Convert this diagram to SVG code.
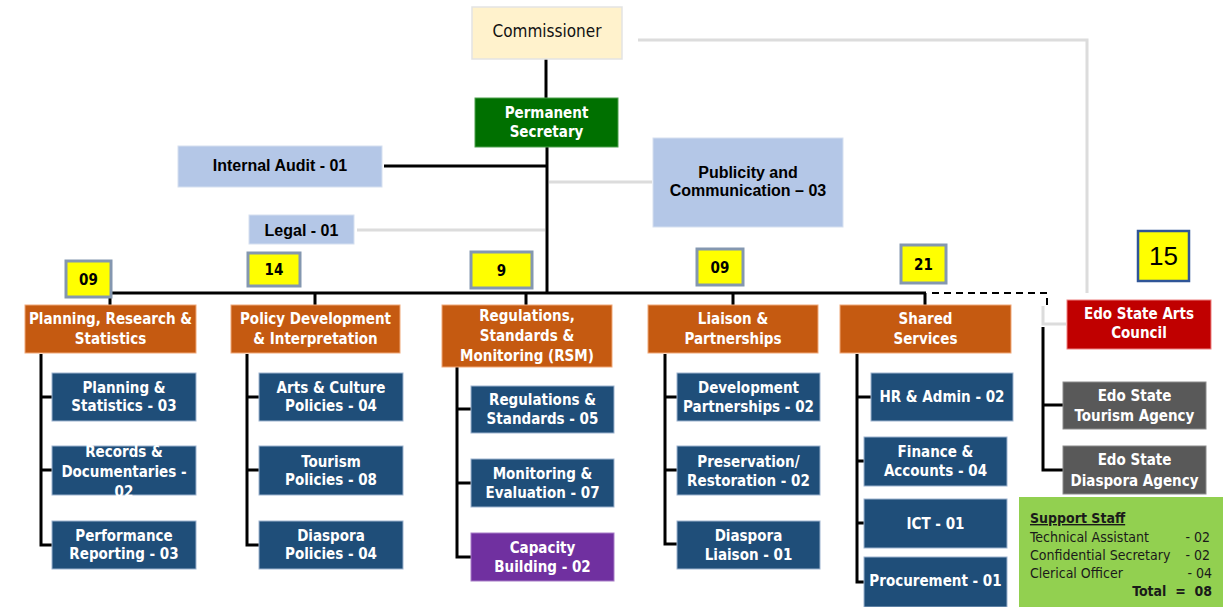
<svg xmlns="http://www.w3.org/2000/svg" width="1228" height="607" viewBox="0 0 1228 607">
  <style>
    .wt { font-family: "DejaVu Sans Condensed", "DejaVu Sans", sans-serif; font-weight: bold; font-size: 15px; fill: #ffffff; text-anchor: middle; }
    .ar { font-family: "Liberation Sans", Arial, sans-serif; font-weight: bold; font-size: 16px; fill: #000000; text-anchor: middle; }
    .num { font-family: "DejaVu Sans Condensed", "DejaVu Sans", sans-serif; font-weight: bold; font-size: 15px; fill: #000000; text-anchor: middle; }
    .sup { font-family: "DejaVu Sans Condensed", "DejaVu Sans", sans-serif; font-size: 14px; fill: #1a1a1a; }
    .unit { fill: #1f4e79; stroke: #9db3cf; stroke-width: 1; }
    .dept { fill: #c55a11; stroke: #f0a878; stroke-width: 1; }
    .agency { fill: #595959; stroke: #8c8c8c; stroke-width: 1; }
    .staff { fill: #b4c7e7; stroke: #d6e0f0; stroke-width: 1; }
    .count { fill: #ffff00; stroke: #8497b0; stroke-width: 3; }
    .line { fill: none; stroke: #000000; stroke-width: 3; }
    .faint { fill: none; stroke: #dcdcdc; stroke-width: 3; }
    .dash { fill: none; stroke: #000000; stroke-width: 2; stroke-dasharray: 7 5; }
  </style>

  <rect width="1228" height="607" fill="#ffffff"/>

  <!-- connectors -->
  <g id="connectors">
    <path class="faint" d="M638 40 H1087 V293"/>
    <path class="faint" d="M549 182 H652"/>
    <path class="faint" d="M357 230 H545"/>
    <path class="faint" d="M1043 306 V324 H1066"/>
    <path class="line" d="M546 59 V98"/>
    <path class="line" d="M547 147 V293"/>
    <path class="line" d="M384 166 H547"/>
    <path class="line" d="M110 293 H926"/>
    <path class="line" d="M110 293 V305 M315 293 V305 M526 293 V305 M733 293 V305 M925 293 V305"/>
    <path class="dash" d="M932 293 H1047 V305"/>
    <!-- Planning, Research & Statistics units -->
    <path class="line" d="M41 354 V545 H52 M41 397 H52 M41 470 H52"/>
    <!-- Policy Development units -->
    <path class="line" d="M247 354 V545 H259 M247 397 H259 M247 470 H259"/>
    <!-- RSM units -->
    <path class="line" d="M457 367 V557 H471 M457 409 H471 M457 483 H471"/>
    <!-- Liaison units -->
    <path class="line" d="M665 354 V544 H677 M665 397 H677 M665 470 H677"/>
    <!-- Shared Services units -->
    <path class="line" d="M857 354 V582 H864 M857 397 H871 M857 461 H864 M857 523 H864"/>
    <!-- agencies -->
    <path class="line" d="M1043 327 V470 H1063 M1043 405 H1063"/>
  </g>

  <!-- top level -->
  <g id="commissioner">
    <rect x="472" y="7" width="150" height="52" fill="#fff2cc" stroke="#e3e3e3" stroke-width="1.5"/>
    <text x="547" y="37" style="font-family: 'DejaVu Sans Condensed', 'DejaVu Sans', sans-serif; font-size: 17px; fill: #111; text-anchor: middle;">Commissioner</text>
  </g>

  <g id="permanent-secretary">
    <rect x="475" y="98" width="143" height="49" fill="#007000" stroke="#4fa04f" stroke-width="1"/>
    <text class="wt" x="546.5" y="118">Permanent</text>
    <text class="wt" x="546.5" y="137">Secretary</text>
  </g>

  <g id="internal-audit">
    <rect class="staff" x="178" y="146" width="204" height="41"/>
    <text class="ar" x="280" y="171">Internal Audit - 01</text>
  </g>

  <g id="publicity">
    <rect class="staff" x="653" y="138" width="190" height="89"/>
    <text class="ar" x="748" y="178">Publicity and</text>
    <text class="ar" x="748" y="196">Communication – 03</text>
  </g>

  <g id="legal">
    <rect class="staff" x="249" y="215" width="105" height="29"/>
    <text class="ar" x="301.5" y="236">Legal - 01</text>
  </g>

  <!-- staff counts -->
  <g id="count-prs">
    <rect class="count" x="66" y="261" width="45" height="36"/>
    <text class="num" x="88.5" y="285">09</text>
  </g>
  <g id="count-pdi">
    <rect class="count" x="248" y="253" width="52" height="33"/>
    <text class="num" x="274" y="275">14</text>
  </g>
  <g id="count-rsm">
    <rect class="count" x="471" y="252" width="61" height="36"/>
    <text class="num" x="501.5" y="276">9</text>
  </g>
  <g id="count-lp">
    <rect class="count" x="697" y="249" width="46" height="36"/>
    <text class="num" x="720" y="273">09</text>
  </g>
  <g id="count-ss">
    <rect class="count" x="901" y="245" width="45" height="38"/>
    <text class="num" x="923.5" y="270">21</text>
  </g>
  <g id="count-agencies">
    <rect x="1138" y="231" width="51" height="50" fill="#ffff00" stroke="#2f5597" stroke-width="2.5"/>
    <text x="1163.5" y="265" style="font-family: 'Liberation Sans', Arial, sans-serif; font-size: 26px; fill: #000; text-anchor: middle;">15</text>
  </g>

  <!-- departments -->
  <g id="dept-prs">
    <rect class="dept" x="25" y="305" width="171" height="48"/>
    <text class="wt" x="110.5" y="324">Planning, Research &amp;</text>
    <text class="wt" x="110.5" y="344">Statistics</text>
  </g>
  <g id="dept-pdi">
    <rect class="dept" x="231" y="305" width="169" height="48"/>
    <text class="wt" x="315.5" y="324">Policy Development</text>
    <text class="wt" x="315.5" y="344">&amp; Interpretation</text>
  </g>
  <g id="dept-rsm">
    <rect class="dept" x="442" y="305" width="170" height="62"/>
    <text class="wt" x="527" y="321">Regulations,</text>
    <text class="wt" x="527" y="341">Standards &amp;</text>
    <text class="wt" x="527" y="361">Monitoring (RSM)</text>
  </g>
  <g id="dept-lp">
    <rect class="dept" x="648" y="305" width="170" height="48"/>
    <text class="wt" x="733" y="324">Liaison &amp;</text>
    <text class="wt" x="733" y="344">Partnerships</text>
  </g>
  <g id="dept-ss">
    <rect class="dept" x="840" y="305" width="171" height="48"/>
    <text class="wt" x="925.5" y="324">Shared</text>
    <text class="wt" x="925.5" y="344">Services</text>
  </g>

  <!-- Planning, Research & Statistics units -->
  <g id="unit-planning-statistics">
    <rect class="unit" x="52" y="373" width="144" height="48"/>
    <text class="wt" x="124" y="393">Planning &amp;</text>
    <text class="wt" x="124" y="411">Statistics - 03</text>
  </g>
  <g id="unit-records">
    <rect class="unit" x="52" y="446" width="144" height="49"/>
    <text class="wt" x="124" y="457">Records &amp;</text>
    <text class="wt" x="124" y="477">Documentaries -</text>
    <text class="wt" x="124" y="497">02</text>
  </g>
  <g id="unit-performance">
    <rect class="unit" x="52" y="521" width="144" height="48"/>
    <text class="wt" x="124" y="541">Performance</text>
    <text class="wt" x="124" y="559">Reporting - 03</text>
  </g>

  <!-- Policy Development & Interpretation units -->
  <g id="unit-arts-culture">
    <rect class="unit" x="259" y="373" width="144" height="48"/>
    <text class="wt" x="331" y="393">Arts &amp; Culture</text>
    <text class="wt" x="331" y="411">Policies - 04</text>
  </g>
  <g id="unit-tourism-policies">
    <rect class="unit" x="259" y="446" width="144" height="49"/>
    <text class="wt" x="331" y="467">Tourism</text>
    <text class="wt" x="331" y="485">Policies - 08</text>
  </g>
  <g id="unit-diaspora-policies">
    <rect class="unit" x="259" y="521" width="144" height="48"/>
    <text class="wt" x="331" y="541">Diaspora</text>
    <text class="wt" x="331" y="559">Policies - 04</text>
  </g>

  <!-- RSM units -->
  <g id="unit-regulations">
    <rect class="unit" x="471" y="386" width="143" height="47"/>
    <text class="wt" x="542.5" y="405">Regulations &amp;</text>
    <text class="wt" x="542.5" y="424">Standards - 05</text>
  </g>
  <g id="unit-monitoring">
    <rect class="unit" x="471" y="459" width="143" height="48"/>
    <text class="wt" x="542.5" y="479">Monitoring &amp;</text>
    <text class="wt" x="542.5" y="498">Evaluation - 07</text>
  </g>
  <g id="unit-capacity">
    <rect x="471" y="533" width="143" height="48" fill="#7030a0" stroke="#a77cc7" stroke-width="1"/>
    <text class="wt" x="542.5" y="553">Capacity</text>
    <text class="wt" x="542.5" y="572">Building - 02</text>
  </g>

  <!-- Liaison & Partnerships units -->
  <g id="unit-development">
    <rect class="unit" x="677" y="373" width="143" height="48"/>
    <text class="wt" x="748.5" y="393">Development</text>
    <text class="wt" x="748.5" y="412">Partnerships - 02</text>
  </g>
  <g id="unit-preservation">
    <rect class="unit" x="677" y="446" width="143" height="49"/>
    <text class="wt" x="748.5" y="467">Preservation/</text>
    <text class="wt" x="748.5" y="486">Restoration - 02</text>
  </g>
  <g id="unit-diaspora-liaison">
    <rect class="unit" x="677" y="521" width="143" height="48"/>
    <text class="wt" x="748.5" y="541">Diaspora</text>
    <text class="wt" x="748.5" y="560">Liaison - 01</text>
  </g>

  <!-- Shared Services units -->
  <g id="unit-hr">
    <rect class="unit" x="871" y="373" width="142" height="48"/>
    <text class="wt" x="942" y="402">HR &amp; Admin - 02</text>
  </g>
  <g id="unit-finance">
    <rect class="unit" x="864" y="437" width="143" height="49"/>
    <text class="wt" x="935.5" y="457">Finance &amp;</text>
    <text class="wt" x="935.5" y="476">Accounts - 04</text>
  </g>
  <g id="unit-ict">
    <rect class="unit" x="864" y="499" width="143" height="49"/>
    <text class="wt" x="935.5" y="529">ICT - 01</text>
  </g>
  <g id="unit-procurement">
    <rect class="unit" x="864" y="557" width="143" height="50"/>
    <text class="wt" x="935.5" y="586">Procurement - 01</text>
  </g>

  <!-- parastatals -->
  <g id="arts-council">
    <rect x="1067" y="300" width="144" height="49" fill="#c00000" stroke="#ee8080" stroke-width="1"/>
    <text class="wt" x="1139" y="319">Edo State Arts</text>
    <text class="wt" x="1139" y="338">Council</text>
  </g>
  <g id="tourism-agency">
    <rect class="agency" x="1063" y="382" width="143" height="47"/>
    <text class="wt" x="1134.5" y="401">Edo State</text>
    <text class="wt" x="1134.5" y="421">Tourism Agency</text>
  </g>
  <g id="diaspora-agency">
    <rect class="agency" x="1063" y="446" width="143" height="48"/>
    <text class="wt" x="1134.5" y="465">Edo State</text>
    <text class="wt" x="1134.5" y="486">Diaspora Agency</text>
  </g>

  <!-- support staff -->
  <g id="support-staff">
    <rect x="1019" y="497" width="204" height="110" fill="#92d050"/>
    <text class="sup" x="1030" y="523" style="font-weight: bold; text-decoration: underline;">Support Staff</text>
    <text class="sup" x="1030" y="542">Technical Assistant</text>
    <text class="sup" x="1210" y="542" text-anchor="end">- 02</text>
    <text class="sup" x="1030" y="560">Confidential Secretary</text>
    <text class="sup" x="1210" y="560" text-anchor="end">- 02</text>
    <text class="sup" x="1030" y="578">Clerical Officer</text>
    <text class="sup" x="1212" y="578" text-anchor="end">- 04</text>
    <text class="sup" x="1212" y="596" text-anchor="end" style="font-weight: bold;" xml:space="preserve">Total  =  08</text>
  </g>
</svg>
